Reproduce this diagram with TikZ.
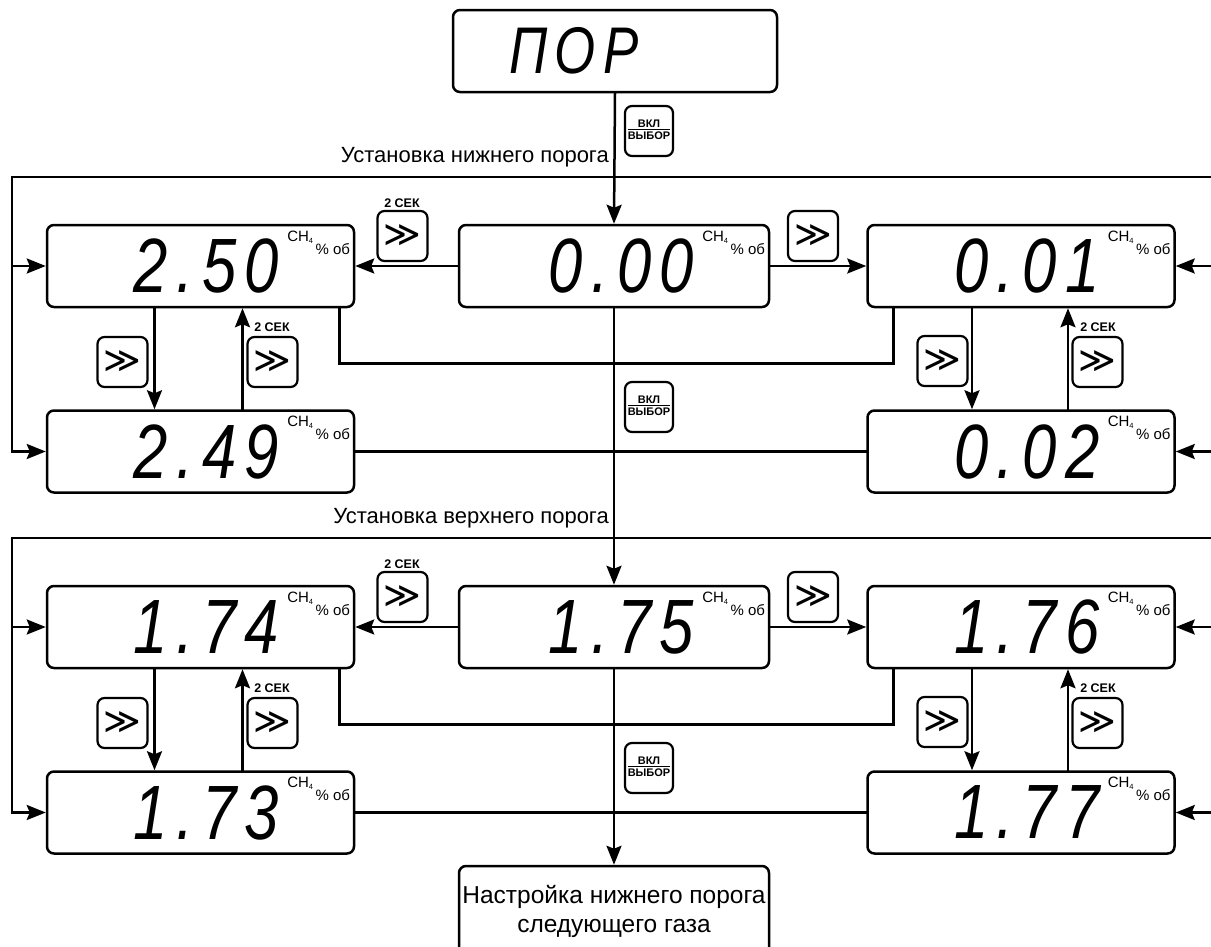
\documentclass[tikz,border=0pt]{standalone}
\usepackage{fontspec}
\setmainfont{Liberation Sans}
\newfontfamily\segfont[LetterSpace=11,FakeStretch=0.8]{Liberation Sans}
\newfontfamily\symfont{DejaVu Sans}
\usetikzlibrary{arrows.meta}

\newcommand{\gasunit}{CH\raisebox{-2pt}{\fontsize{7.5}{7.5}\selectfont 4}\raisebox{-13pt}{\,\% об}}
\newcommand{\selkey}{\renewcommand{\arraystretch}{0.9}\begin{tabular}{@{}c@{}}ВКЛ\\[-1pt]\hline\rule{0pt}{9.5pt}ВЫБОР\end{tabular}}
\newcommand{\fwd}{{\symfont ≫}}

\begin{document}
\begin{tikzpicture}[
    x=1pt, y=-1pt,
    disp/.style={draw, line width=2.5pt, rounded corners=7pt, minimum width=307pt, minimum height=82pt, inner sep=0pt},
    middisp/.style={disp, minimum width=310pt},
    btn/.style={draw, line width=2.2pt, rounded corners=7pt, minimum width=50pt, minimum height=50pt, inner sep=0pt, font=\fontsize{36}{36}\selectfont},
    selbtn/.style={btn, minimum width=48pt, font=\bfseries\fontsize{11}{11.5}\selectfont},
    digits/.style={font=\fontsize{77}{77}\segfont\itshape, inner sep=0pt, anchor=east},
    unitlbl/.style={font=\fontsize{15}{15}\selectfont, anchor=north east, inner sep=0pt},
    sec/.style={font=\bfseries\fontsize{12.5}{12.5}\selectfont, inner sep=0pt},
    seclbl/.style={font=\fontsize{22}{22}\selectfont, anchor=east, inner sep=0pt},
    arr/.style={-{Stealth[length=19pt,width=15pt,inset=3pt]}, line width=2.5pt, line cap=rect},
    wire/.style={line width=2.5pt, line cap=rect},
]
\useasboundingbox (0,0) rectangle (1211,946);

% --- Top display ---
\node[disp, minimum width=324pt] (ptop) at (615,51) {};
\node[font=\fontsize{66}{66}\segfont\itshape, inner sep=0pt] (ptoptxt) at (574,51) {ПОР};

% --- Lower threshold: row 1 ---
\node[disp] (b1l) at (200.5,266) {};
\node[middisp] (m1) at (614,266) {};
\node[disp] (b1r) at (1021,266) {};
\node[digits] (d1l) at ([xshift=-76pt]b1l.east) {2.50};
\node[digits] (dm1) at ([xshift=-76pt]m1.east) {0.00};
\node[digits] (d1r) at ([xshift=-76pt]b1r.east) {0.01};
\node[unitlbl] (u1l) at ([xshift=-5pt,yshift=-7pt]b1l.north east) {\gasunit};
\node[unitlbl] (um1) at ([xshift=-5pt,yshift=-7pt]m1.north east) {\gasunit};
\node[unitlbl] (u1r) at ([xshift=-5pt,yshift=-7pt]b1r.north east) {\gasunit};

% --- Lower threshold: row 2 ---
\node[disp] (b2l) at (200.5,451.5) {};
\node[disp] (b2r) at (1021,451.5) {};
\node[digits] (d2l) at ([xshift=-76pt]b2l.east) {2.49};
\node[digits] (d2r) at ([xshift=-76pt]b2r.east) {0.02};
\node[unitlbl] (u2l) at ([xshift=-5pt,yshift=-7pt]b2l.north east) {\gasunit};
\node[unitlbl] (u2r) at ([xshift=-5pt,yshift=-7pt]b2r.north east) {\gasunit};

% --- Upper threshold: row 3 ---
\node[disp] (b3l) at (200.5,627) {};
\node[middisp] (m3) at (614,627) {};
\node[disp] (b3r) at (1021,627) {};
\node[digits] (d3l) at ([xshift=-76pt]b3l.east) {1.74};
\node[digits] (dm3) at ([xshift=-76pt]m3.east) {1.75};
\node[digits] (d3r) at ([xshift=-76pt]b3r.east) {1.76};
\node[unitlbl] (u3l) at ([xshift=-5pt,yshift=-7pt]b3l.north east) {\gasunit};
\node[unitlbl] (um3) at ([xshift=-5pt,yshift=-7pt]m3.north east) {\gasunit};
\node[unitlbl] (u3r) at ([xshift=-5pt,yshift=-7pt]b3r.north east) {\gasunit};

% --- Upper threshold: row 4 ---
\node[disp] (b4l) at (200.5,812.5) {};
\node[disp] (b4r) at (1021,812.5) {};
\node[digits] (d4l) at ([xshift=-76pt]b4l.east) {1.73};
\node[digits] (d4r) at ([xshift=-76pt]b4r.east) {1.77};
\node[unitlbl] (u4l) at ([xshift=-5pt,yshift=-7pt]b4l.north east) {\gasunit};
\node[unitlbl] (u4r) at ([xshift=-5pt,yshift=-7pt]b4r.north east) {\gasunit};

% --- Next gas ---
\node[middisp, minimum height=90pt, align=center, font=\fontsize{24.5}{29}\selectfont] (fin) at (614,911) {Настройка нижнего порога\\следующего газа};

% --- Section labels ---
\node[seclbl] (lbllow) at (609,157) {Установка нижнего порога};
\node[seclbl] (lblup) at (609,518) {Установка верхнего порога};

% --- Keys ---
\node[selbtn] (sel1) at (649,131) {\selkey};
\node[selbtn] (sel2) at (649,407) {\selkey};
\node[selbtn] (sel3) at (649,768) {\selkey};

\node[btn] (kl1) at (402.5,236) {\fwd};
\node[btn] (kr1) at (813,236) {\fwd};
\node[btn] (kd1) at (122.5,362) {\fwd};
\node[btn] (ku1) at (272.5,362) {\fwd};
\node[btn] (kdr1) at (942.5,361) {\fwd};
\node[btn] (kur1) at (1097.5,362) {\fwd};

\node[btn] (kl3) at (402.5,597) {\fwd};
\node[btn] (kr3) at (813,597) {\fwd};
\node[btn] (kd3) at (122.5,723) {\fwd};
\node[btn] (ku3) at (272.5,723) {\fwd};
\node[btn] (kdr3) at (942.5,722) {\fwd};
\node[btn] (kur3) at (1097.5,723) {\fwd};

\node[sec] (skl1) at (402,203) {2 СЕК};
\node[sec] (sku1) at (272,327) {2 СЕК};
\node[sec] (skur1) at (1098,327) {2 СЕК};
\node[sec] (skl3) at (402,564) {2 СЕК};
\node[sec] (sku3) at (272,688) {2 СЕК};
\node[sec] (skur3) at (1098,688) {2 СЕК};

% === Main path ===
\draw[arr] (ptop.south) -- (m1.north);
\draw[arr] (m1.south) -- (m3.north);
\draw[arr] (m3.south) -- (fin.north);

% === Lower threshold loops ===
\coordinate (lpA) at (12,177);
\coordinate (rpA) at (1214,177);
\draw[wire] (lpA) -- (rpA);
\draw[arr] (lpA) |- (b1l.west);
\draw[arr] (lpA) |- (b2l.west);
\draw[arr] (rpA) |- (b1r.east);
\draw[arr] (rpA) |- (b2r.east);

\draw[arr] (m1.west) -- (b1l.east);
\draw[arr] (m1.east) -- (b1r.west);
\draw[arr] ([xshift=-46pt]b1l.south) -- ([xshift=-46pt]b2l.north);
\draw[arr] ([xshift=42pt]b2l.north) -- ([xshift=42pt]b1l.south);
\draw[arr] ([xshift=-49pt]b1r.south) -- ([xshift=-49pt]b2r.north);
\draw[arr] ([xshift=47pt]b2r.north) -- ([xshift=47pt]b1r.south);
\draw[wire] ([xshift=-16pt]b1l.south east) -- ++(0,55) -| ([xshift=27pt]b1r.south west);
\draw[wire] (b2l.east) -- (b2r.west);

% === Upper threshold loops ===
\coordinate (lpB) at (12,538);
\coordinate (rpB) at (1214,538);
\draw[wire] (lpB) -- (rpB);
\draw[arr] (lpB) |- (b3l.west);
\draw[arr] (lpB) |- (b4l.west);
\draw[arr] (rpB) |- (b3r.east);
\draw[arr] (rpB) |- (b4r.east);

\draw[arr] (m3.west) -- (b3l.east);
\draw[arr] (m3.east) -- (b3r.west);
\draw[arr] ([xshift=-46pt]b3l.south) -- ([xshift=-46pt]b4l.north);
\draw[arr] ([xshift=42pt]b4l.north) -- ([xshift=42pt]b3l.south);
\draw[arr] ([xshift=-49pt]b3r.south) -- ([xshift=-49pt]b4r.north);
\draw[arr] ([xshift=47pt]b4r.north) -- ([xshift=47pt]b3r.south);
\draw[wire] ([xshift=-16pt]b3l.south east) -- ++(0,55) -| ([xshift=27pt]b3r.south west);
\draw[wire] (b4l.east) -- (b4r.west);

\end{tikzpicture}
\end{document}
